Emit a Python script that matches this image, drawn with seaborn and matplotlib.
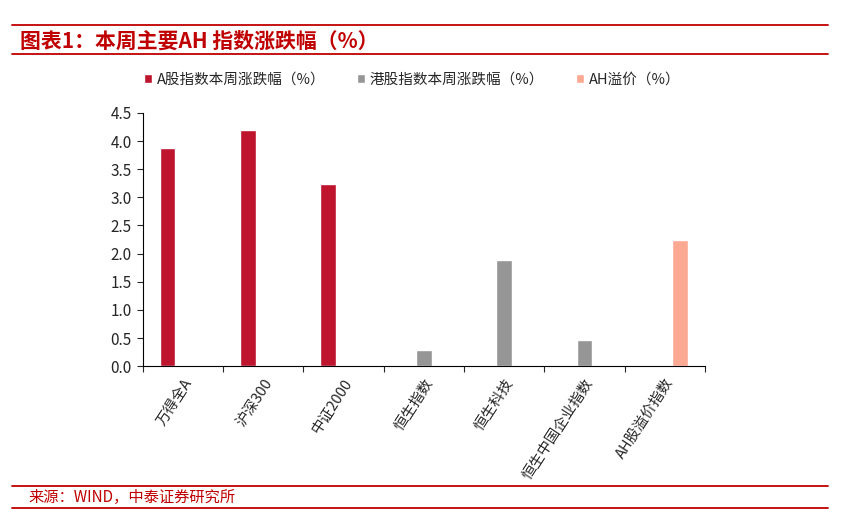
import pandas as pd
import matplotlib.pyplot as plt
import seaborn as sns
from matplotlib.lines import Line2D

# data
categories = ["万得全A", "沪深300", "中证2000", "恒生指数", "恒生科技", "恒生中国企业指数", "AH股溢价指数"]
series_names = ["A股指数本周涨跌幅（%）", "港股指数本周涨跌幅（%）", "AH溢价（%）"]
series_of_cat = [0, 0, 0, 1, 1, 1, 2]
values = [3.88, 4.19, 3.23, 0.28, 1.89, 0.46, 2.24]
colors = ["#BE142D", "#969696", "#FCA993"]

df = pd.DataFrame({
    "category": categories,
    "series": [series_names[i] for i in series_of_cat],
    "value": values,
})

sns.set_style("white")
plt.rcParams['font.family'] = ['Noto Sans CJK SC', 'DejaVu Sans']

fig = plt.figure(figsize=(8.41, 5.30), dpi=100)
ax = fig.add_axes([0.170, 0.309, 0.668, 0.478])

sns.barplot(data=df, x="category", y="value", hue="series",
            order=categories, hue_order=series_names,
            palette=colors, width=0.585, dodge=True, ax=ax,
            saturation=1, errorbar=None, legend=True)

ax.set_ylim(0, 4.5)
ax.set_xlim(-0.5, len(categories) - 0.5)
ax.set_yticks([i * 0.5 for i in range(10)])
ax.set_yticklabels([f"{i * 0.5:.1f}" for i in range(10)], fontsize=11)
ax.set_xlabel("")
ax.set_ylabel("")
ax.set_xticks(range(len(categories)))
ax.set_xticklabels(categories, rotation=57, ha="right", rotation_mode="anchor", fontsize=10.5)
ax.set_xticks([i - 0.5 for i in range(len(categories) + 1)], minor=True)
ax.tick_params(axis="x", which="major", length=0, pad=7)
ax.tick_params(axis="x", which="minor", length=4, width=0.8, direction="out", bottom=True)
ax.tick_params(axis="y", length=4, width=0.8, direction="out", left=True, pad=4)
sns.despine(ax=ax)
for s in ["left", "bottom"]:
    ax.spines[s].set_color("black")
    ax.spines[s].set_linewidth(0.8)

handles, labels = ax.get_legend_handles_labels()
ax.legend_.remove()
fig.legend(handles, labels, loc="center", bbox_to_anchor=(0.49, 0.849), ncol=3,
           frameon=False, fontsize=10.5, handlelength=0.55, handleheight=0.55,
           handletextpad=0.3, columnspacing=2.2)

# title block and source block
red = "#C00000"
for y in [0.952, 0.898, 0.083, 0.042]:
    fig.add_artist(Line2D([0.014, 0.985], [y, y], color=red, lw=1.3))
fig.text(0.024, 0.923, "图表1：本周主要AH 指数涨跌幅（%）", color=red, fontsize=15,
         fontweight="bold", style="italic", va="center", ha="left")
fig.text(0.034, 0.062, "来源：WIND，中泰证券研究所", color=red, fontsize=11,
         va="center", ha="left")

plt.savefig("out.png", dpi=100)
